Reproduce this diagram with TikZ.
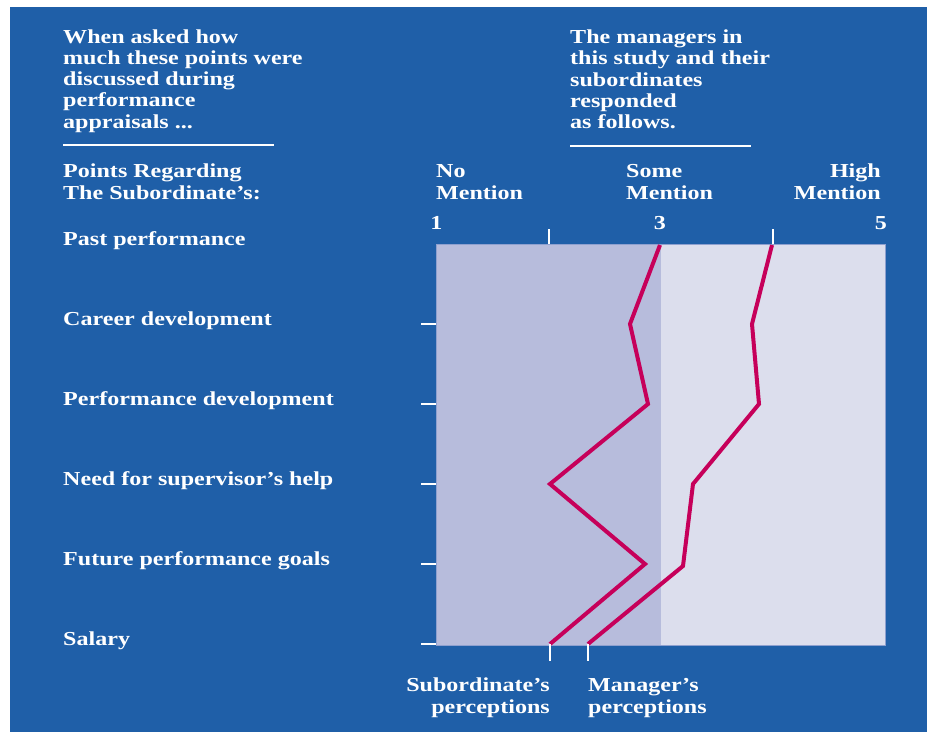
\documentclass[tikz,border=0pt]{standalone}
\usepackage{fontspec}
\newfontfamily\lab{Liberation Serif}[FakeStretch=1.215]
\definecolor{bgblue}{RGB}{31,95,168}
\definecolor{darkfill}{RGB}{183,188,220}
\definecolor{lightfill}{RGB}{220,222,237}
\definecolor{boxedge}{RGB}{142,160,207}
\definecolor{crim}{RGB}{198,0,90}
\tikzset{
  txt/.style={text=white, inner sep=0pt, font=\lab\bfseries\fontsize{19.8}{21.2}\selectfont},
  hrule/.style={draw=white, line width=2pt},
  tickmark/.style={draw=white, line width=2pt},
  perc/.style={draw=crim, line width=4pt, line join=miter},
}
\begin{document}
\begin{tikzpicture}[x=1pt,y=-1pt]
\useasboundingbox (0,0) rectangle (930,732);
\fill[bgblue] (10,7) rectangle (927,732);
% header texts (anchor = baseline of last line)
\node[txt, anchor=base west, align=left] (hleft) at (63,128) {When asked how\\much these points were\\discussed during\\performance\\appraisals ...};
\node[txt, anchor=base west, align=left] (hright) at (570,128.5) {The managers in\\this study and their\\subordinates\\responded\\as follows.};
\coordinate (rl1) at (63,145); \coordinate (rl2) at (274,145);
\coordinate (rr1) at (570,146); \coordinate (rr2) at (751,146);
\draw[hrule] (rl1) -- (rl2);
\draw[hrule] (rr1) -- (rr2);
\node[txt, anchor=base west, align=left] (points) at (63,199) {Points Regarding\\The Subordinate’s:};
\node[txt, anchor=base west, align=left] (nom) at (436,199) {No\\Mention};
\node[txt, anchor=base west, align=left] (som) at (626,199) {Some\\Mention};
\node[txt, anchor=base east, align=right] (him) at (881,199) {High\\Mention};
\node[txt, anchor=base] (n1) at (436.5,229) {1};
\node[txt, anchor=base] (n3) at (660,229) {3};
\node[txt, anchor=base] (n5) at (881,229) {5};
% chart box
\fill[darkfill] (436,244) rectangle (660.5,645);
\fill[lightfill] (660.5,244) rectangle (885,645);
\draw[boxedge, line width=1pt] (436,244) rectangle (885,645);
% top ticks
\coordinate (t2a) at (548.5,229); \coordinate (t2b) at (548.5,244);
\coordinate (t4a) at (773,229); \coordinate (t4b) at (773,244);
\draw[tickmark] (t2a) -- (t2b);
\draw[tickmark] (t4a) -- (t4b);
% row labels
\foreach \y/\lbl [count=\i] in {244/Past performance, 324/Career development, 404/Performance development, 484/Need for supervisor’s help, 564/Future performance goals, 644/Salary}{
  \node[txt, anchor=base west] (row\i) at (63,\y+1) {\lbl};
}
% left ticks
\foreach \y [count=\i] in {324,404,484,564,644}{
  \coordinate (lt\i a) at (421,\y); \coordinate (lt\i b) at (436,\y);
  \draw[tickmark] (lt\i a) -- (lt\i b);
}
% perception lines
\coordinate (s0) at (660,245); \coordinate (s1) at (630,324); \coordinate (s2) at (648,404);
\coordinate (s3) at (550,484); \coordinate (s4) at (645,564); \coordinate (s5) at (550,644);
\coordinate (m0) at (772,245); \coordinate (m1) at (752,324); \coordinate (m2) at (759,404);
\coordinate (m3) at (693,484); \coordinate (m4) at (683,566); \coordinate (m5) at (588,644);
\draw[perc] (s0) -- (s1) -- (s2) -- (s3) -- (s4) -- (s5);
\draw[perc] (m0) -- (m1) -- (m2) -- (m3) -- (m4) -- (m5);
% bottom ticks
\coordinate (bs) at (550,661); \coordinate (bm) at (588,661);
\draw[tickmark] (s5) -- (bs);
\draw[tickmark] (m5) -- (bm);
\node[txt, anchor=base east, align=right] (sublab) at (550,713) {Subordinate’s\\perceptions};
\node[txt, anchor=base west, align=left] (manlab) at (588,713) {Manager’s\\perceptions};
\end{tikzpicture}
\end{document}
